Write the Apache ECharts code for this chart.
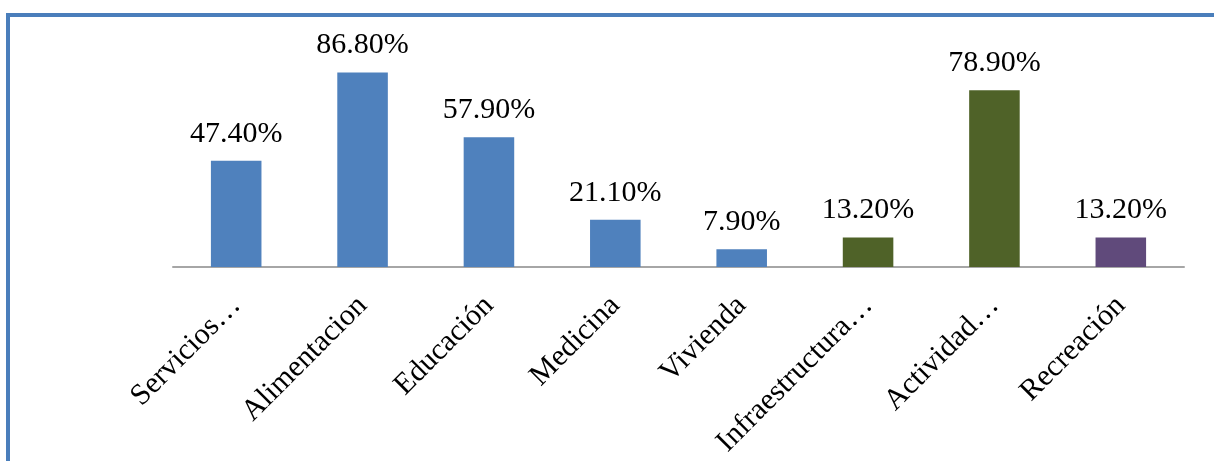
<!DOCTYPE html>
<html>
<head>
<meta charset="utf-8">
<script src="https://cdn.jsdelivr.net/npm/echarts@6/dist/echarts.min.js"></script>
<style>
  body { margin: 0; background: #fff; }
  #frame {
    position: absolute; left: 6px; top: 13px; right: 0; bottom: 0;
    border-top: 4px solid #4a7ebb; border-left: 4px solid #4a7ebb;
  }
  #main { position: absolute; left: 0; top: 0; width: 1214px; height: 461px; }
</style>
</head>
<body>
<div id="frame"></div>
<div id="main"></div>
<script>
var categories = ['Servicios…', 'Alimentacion', 'Educación', 'Medicina', 'Vivienda', 'Infraestructura…', 'Actividad…', 'Recreación'];
var values = [47.4, 86.8, 57.9, 21.1, 7.9, 13.2, 78.9, 13.2];

// colores por barra (azul, verde, morado como en el original)
var barColors = ['#4f81bd', '#4f81bd', '#4f81bd', '#4f81bd', '#4f81bd', '#4f6228', '#4f6228', '#604a7b'];

var myChart = echarts.init(document.getElementById('main'));

var option = {
    animation: false,
    grid: { left: 173, right: 30, top: 43, bottom: 194 },
    xAxis: {
        type: 'category',
        data: categories,
        axisLine: { lineStyle: { color: '#a6a6a6', width: 2 } },
        axisTick: { show: false },
        axisLabel: {
            rotate: 45,
            margin: 34,
            interval: 0,
            fontFamily: 'Liberation Serif',
            fontSize: 30,
            color: '#000'
        }
    },
    yAxis: {
        type: 'value',
        min: 0,
        max: 100,
        show: false
    },
    series: [
        {
            type: 'bar',
            barWidth: '40%',
            data: values.map(function (v, i) {
                return { value: v, itemStyle: { color: barColors[i] } };
            }),
            label: {
                show: true,
                position: 'top',
                distance: 12,
                fontFamily: 'Liberation Serif',
                fontSize: 30,
                color: '#000',
                formatter: function (p) { return p.value.toFixed(2) + '%'; }
            }
        }
    ]
};

myChart.setOption(option);
</script>
</body>
</html>
